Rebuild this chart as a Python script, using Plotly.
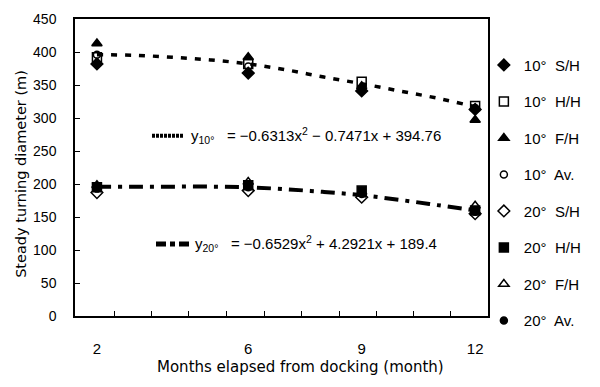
import plotly.graph_objects as go

months = [2, 6, 9, 12]
s10_SH = [382, 368, 341, 313]
s10_HH = [392, 382, 355, 318]
s10_FH = [413, 392, 348, 297]
s10_AV = [396, 378, 345, 315]
s20_SH = [187, 190, 180, 155]
s20_HH = [195, 198, 190, 160]
s20_FH = [198, 203, 188, 167]
s20_AV = [193, 195, 185, 158]

trend_x = [2, 3, 4, 5, 6, 7, 8, 9, 10, 11, 12]
trend10 = [396, 395, 392, 388, 382, 373, 362, 352, 341, 330, 317]
trend20 = [196, 196, 196, 196, 195, 192, 188, 183, 176, 168, 160]

x_ticks = [2, 6, 9, 12]
x_minor_ticks = [2.46, 3.45, 4.43, 5.43, 6.43, 7.42, 8.41, 9.38, 10.37, 11.34]
y_ticks = [0, 50, 100, 150, 200, 250, 300, 350, 400, 450]

FONT = "Liberation Sans, Arial, sans-serif"
TFONT = "DejaVu Sans, sans-serif"

series = [
    ("10°  S/H", s10_SH, "diamond", "black"),
    ("10°  H/H", s10_HH, "square-open", "black"),
    ("10°  F/H", s10_FH, "triangle-up", "black"),
    ("10°  Av.", s10_AV, "circle-open", "black"),
    ("20°  S/H", s20_SH, "diamond-open", "black"),
    ("20°  H/H", s20_HH, "square", "black"),
    ("20°  F/H", s20_FH, "triangle-up-open", "black"),
    ("20°  Av.", s20_AV, "circle", "black"),
]

fig = go.Figure()

fig.add_trace(go.Scatter(x=trend_x, y=trend10, mode="lines", showlegend=False,
                         line=dict(color="black", width=3.5, dash="6px,8px", shape="spline")))
fig.add_trace(go.Scatter(x=trend_x, y=trend20, mode="lines", showlegend=False,
                         line=dict(color="black", width=4, dash="14px,7px,4px,7px", shape="spline")))

for i, (name, vals, sym, col) in enumerate(series):
    size = 7 if "circle" in sym else 9
    fig.add_trace(go.Scatter(x=months, y=vals, mode="markers", name=name,
                             legendgroup=str(i),
                             marker=dict(symbol=sym, size=size, color=col,
                                         line=dict(color="black", width=1.5))))

# invisible trace for minor tick axis
fig.add_trace(go.Scatter(x=[x_minor_ticks[0]], y=[0], xaxis="x2", mode="markers",
                         marker=dict(opacity=0), showlegend=False, hoverinfo="skip"))

L, R, T, B = 75, 112, 11, 71
W, H = 600, 387
pw, ph = W - L - R, H - T - B

def px(x):
    return (x - L) / pw

def py(y):
    return (H - B - y) / ph

fig.add_shape(type="line", xref="paper", yref="paper", x0=px(152), x1=px(184), y0=py(131), y1=py(131),
              line=dict(color="black", width=4, dash="3px,1px"))
fig.add_shape(type="line", xref="paper", yref="paper", x0=px(156), x1=px(190), y0=py(242), y1=py(242),
              line=dict(color="black", width=5, dash="10px,4px,5px,4px"))

fig.add_annotation(xref="paper", yref="paper", x=px(189), y=py(131), xanchor="left", yanchor="middle",
                   text="y<sub>10°</sub>   = −0.6313x<sup>2</sup> − 0.7471x + 394.76", showarrow=False,
                   font=dict(family=FONT, size=15, color="black"))
fig.add_annotation(xref="paper", yref="paper", x=px(193), y=py(242), xanchor="left", yanchor="middle",
                   text="y<sub>20°</sub>   = −0.6529x<sup>2</sup> + 4.2921x + 189.4", showarrow=False,
                   font=dict(family=FONT, size=15, color="black"))

# axis titles
fig.add_annotation(xref="paper", yref="paper", x=px(300), y=py(368), xanchor="center", yanchor="middle",
                   text="Months elapsed from docking (month)", showarrow=False,
                   font=dict(family=TFONT, size=15, color="black"))
fig.add_annotation(xref="paper", yref="paper", x=px(21), y=py(170), xanchor="center", yanchor="middle",
                   text="Steady turning diameter (m)", showarrow=False, textangle=-90,
                   font=dict(family=TFONT, size=14.5, color="black"))

fig.update_layout(
    width=W, height=H,
    margin=dict(l=L, r=R, t=T, b=B),
    paper_bgcolor="white", plot_bgcolor="white",
    font=dict(family=FONT, size=14, color="black"),
    xaxis=dict(range=[1.42, 12.34], tickvals=x_ticks, ticks="", showgrid=False, zeroline=False,
               showline=True, linecolor="black", linewidth=1.5, mirror=True,
               ticklabelstandoff=18, tickfont=dict(size=15)),
    xaxis2=dict(range=[1.42, 12.34], overlaying="x", side="bottom", tickvals=x_minor_ticks,
                ticks="inside", ticklen=5, tickcolor="black", showticklabels=False,
                showgrid=False, zeroline=False, showline=False),
    yaxis=dict(range=[0, 450], tickvals=y_ticks, ticks="inside", ticklen=5, tickcolor="black",
               showgrid=False, zeroline=False, showline=True, linecolor="black", linewidth=1.5,
               mirror=True, ticklabelstandoff=14, tickfont=dict(size=14)),
    legend=dict(x=0.99, y=0.90, xanchor="left", yanchor="top", tracegroupgap=14,
                itemwidth=30, font=dict(family=FONT, size=15), bgcolor="rgba(0,0,0,0)"),
)

fig.write_html("out.html")
